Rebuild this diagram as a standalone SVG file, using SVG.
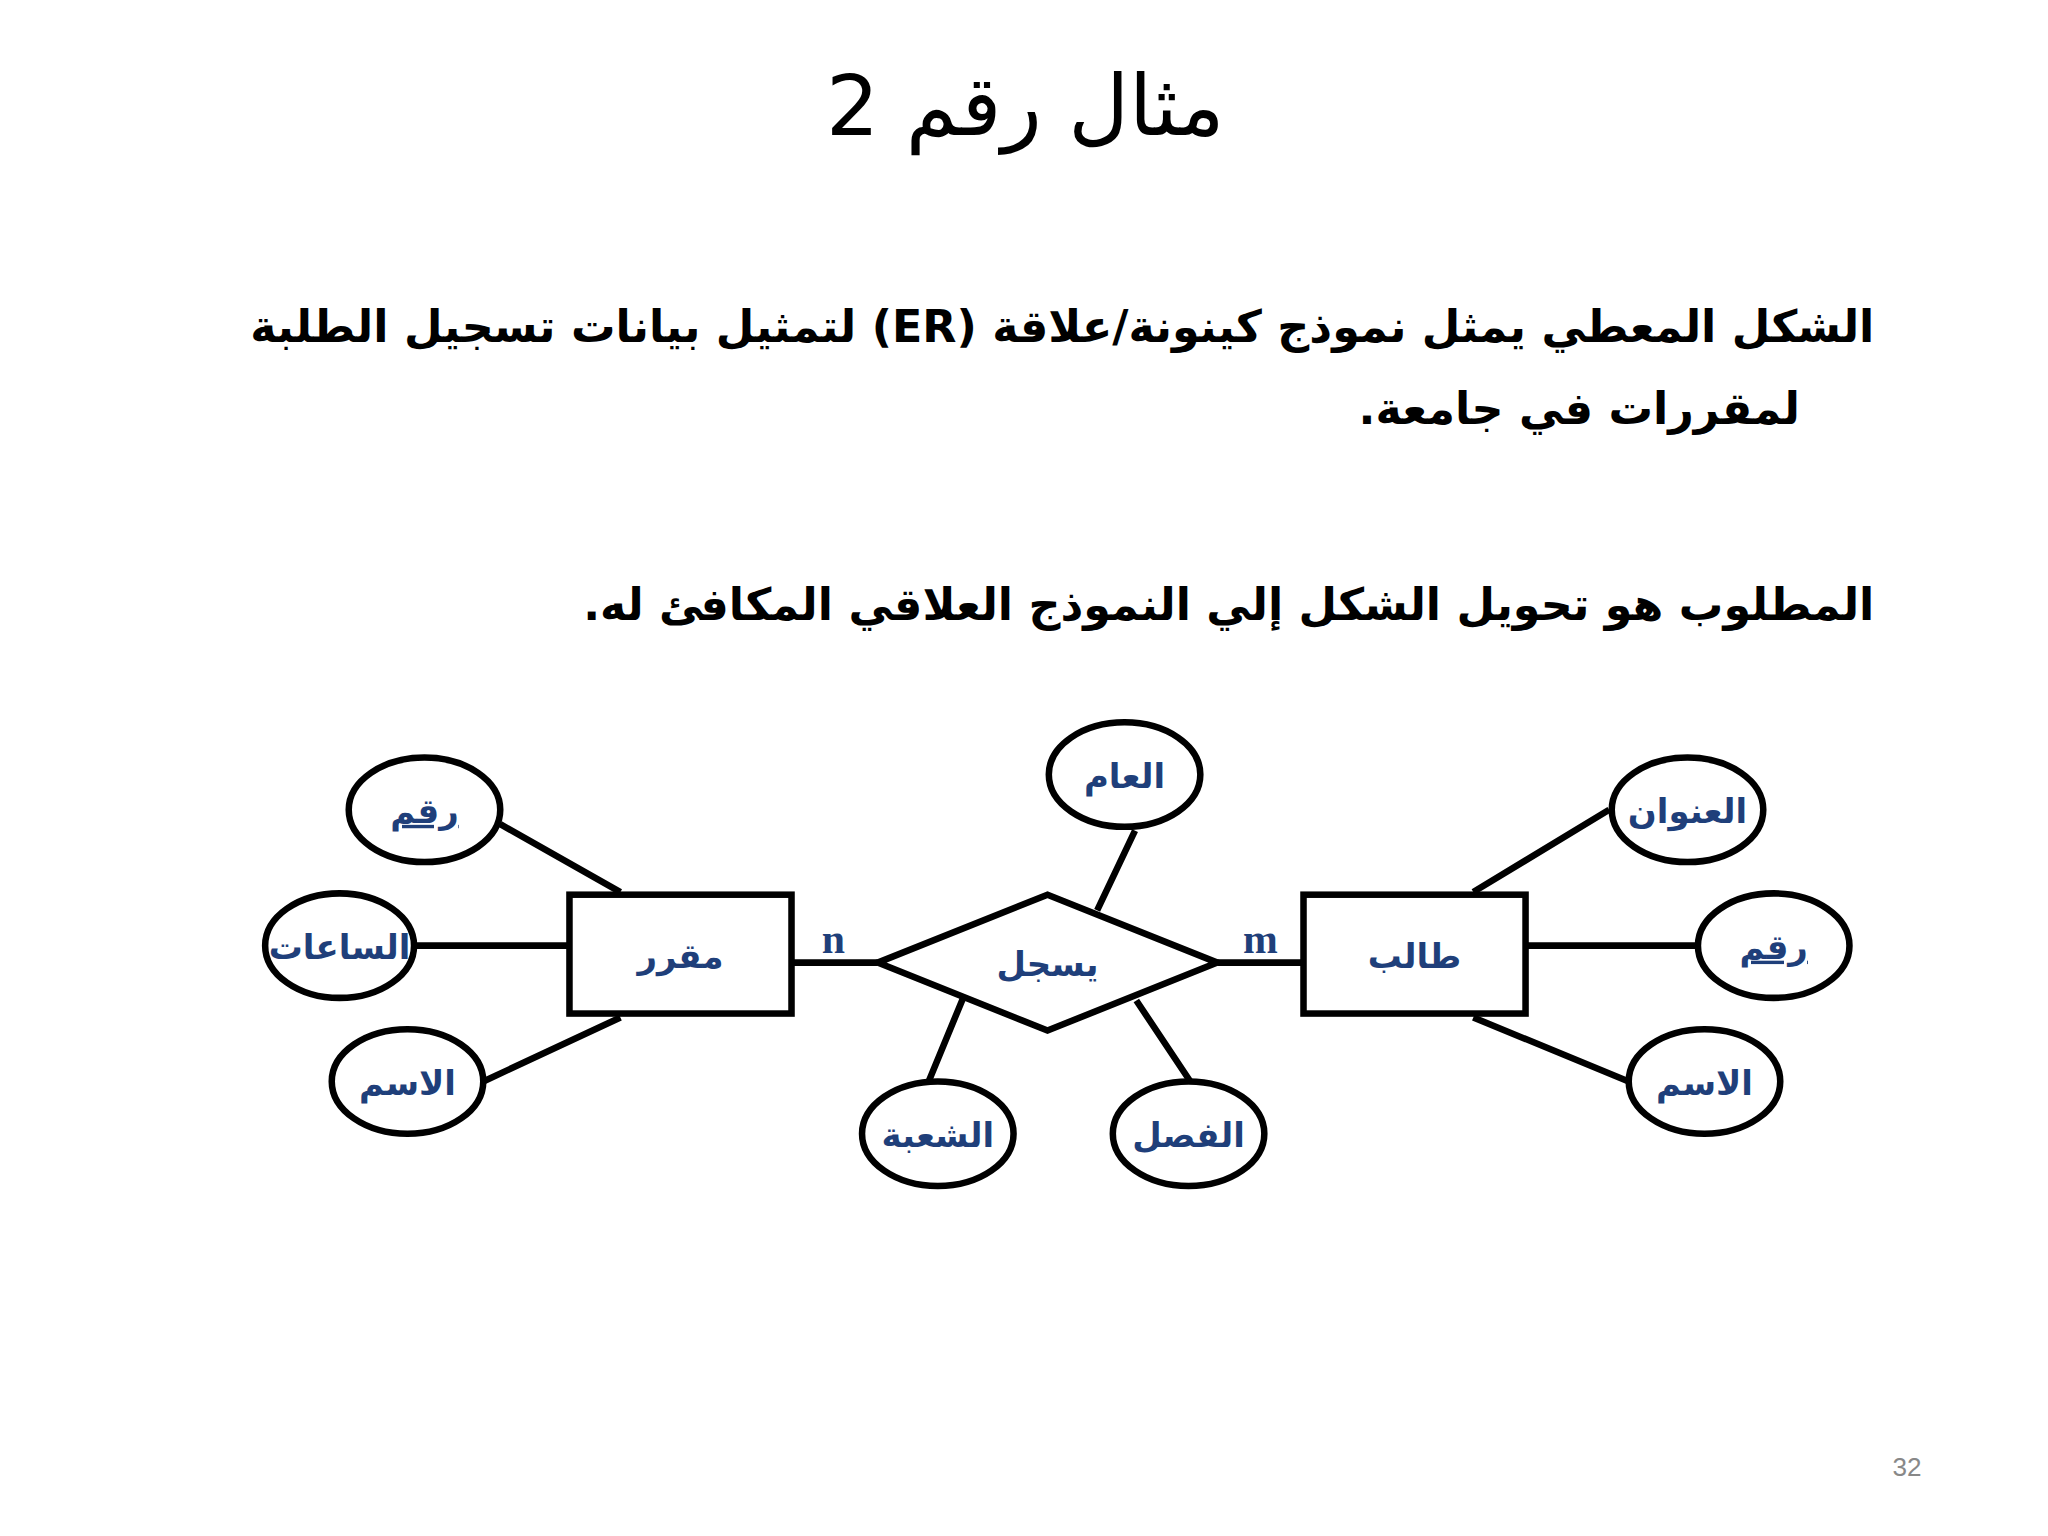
<svg xmlns="http://www.w3.org/2000/svg" width="2048" height="1536" viewBox="0 0 2048 1536">
<style>
.e{fill:#fff;stroke:#000;stroke-width:5}
.b{fill:#fff;stroke:#000;stroke-width:5}
.l{stroke:#000;stroke-width:5;fill:none}
.t{font-family:"DejaVu Sans",sans-serif;font-size:26px;font-weight:bold;fill:#1f3f7a;text-anchor:middle}
.p{font-family:"DejaVu Sans",sans-serif;font-size:34px;font-weight:bold;fill:#000;text-anchor:start;direction:rtl}
.c{font-family:"Liberation Serif",serif;font-size:32px;font-weight:bold;fill:#1f3f7a;text-anchor:middle}
</style>
<rect width="2048" height="1536" fill="#fff"/>
<g transform="scale(1.30612)">
<text x="785" y="103" font-family="DejaVu Sans,sans-serif" font-size="64" text-anchor="middle" direction="rtl">مثال رقم 2</text>
<text class="p" x="1435" y="262">الشكل المعطي يمثل نموذج كينونة/علاقة (ER) لتمثيل بيانات تسجيل الطلبة</text>
<text class="p" x="1378" y="325">لمقررات في جامعة.</text>
<text class="p" x="1435" y="475">المطلوب هو تحويل الشكل إلي النموذج العلاقي المكافئ له.</text>
<g id="connectors">
<path class="l" d="M383 631L475 683M317 724H436M370 828L475 779M606 737H672M932 737H998M840 697L869 636M737 765L711 828M870 766L912 829M1128 683L1232 620M1168 724H1300M1128 779L1247 828"/>
</g>
<g id="course"><rect class="b" x="436" y="685" width="170" height="91"/><text class="t" x="521" y="741">مقرر</text></g>
<g id="student"><rect class="b" x="998" y="685" width="170" height="91"/><text class="t" x="1083" y="741">طالب</text></g>
<g id="register"><polygon class="b" points="672,737 802,685 932,737 802,789"/><text class="t" x="802" y="747">يسجل</text></g>
<g id="a1"><ellipse class="e" cx="325" cy="620" rx="58" ry="40"/><text class="t" x="325" y="630" text-decoration="underline">رقم</text></g>
<g id="a2"><ellipse class="e" cx="260" cy="724" rx="57" ry="40"/><text class="t" x="260" y="734">الساعات</text></g>
<g id="a3"><ellipse class="e" cx="312" cy="828" rx="58" ry="40"/><text class="t" x="312" y="838">الاسم</text></g>
<g id="a4"><ellipse class="e" cx="861" cy="593" rx="58" ry="40"/><text class="t" x="861" y="603">العام</text></g>
<g id="a5"><ellipse class="e" cx="718" cy="868" rx="58" ry="40"/><text class="t" x="718" y="878">الشعبة</text></g>
<g id="a6"><ellipse class="e" cx="910" cy="868" rx="58" ry="40"/><text class="t" x="910" y="878">الفصل</text></g>
<g id="a7"><ellipse class="e" cx="1292" cy="620" rx="58" ry="40"/><text class="t" x="1292" y="630">العنوان</text></g>
<g id="a8"><ellipse class="e" cx="1358" cy="724" rx="58" ry="40"/><text class="t" x="1358" y="734" text-decoration="underline">رقم</text></g>
<g id="a9"><ellipse class="e" cx="1305" cy="828" rx="58" ry="40"/><text class="t" x="1305" y="838">الاسم</text></g>
<text class="c" x="638" y="730">n</text>
<text class="c" x="965" y="730">m</text>
<text x="1460" y="1130" font-family="Liberation Sans,sans-serif" font-size="20" fill="#888" text-anchor="middle">32</text>
</g>
</svg>
